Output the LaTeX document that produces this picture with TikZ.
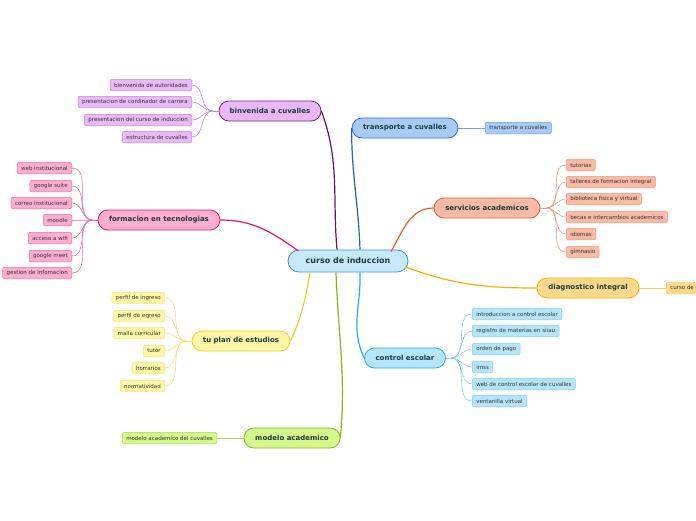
\documentclass[tikz,border=0pt]{standalone}
\usepackage{fontspec}
\setmainfont{DejaVu Sans}
\usetikzlibrary{positioning,calc}

% colores por rama
\definecolor{hubfill}{HTML}{C6E9FB}
\definecolor{hubline}{HTML}{3A97D6}
\definecolor{maintext}{HTML}{1B3B3B}
\definecolor{leaftext}{HTML}{333333}
\definecolor{binfill}{HTML}{E9B9F7}
\definecolor{binline}{HTML}{7A2390}
\definecolor{binleaf}{HTML}{C388DA}
\definecolor{bincon}{HTML}{5B1470}
\definecolor{trafill}{HTML}{A9C9F9}
\definecolor{traline}{HTML}{2A6FD6}
\definecolor{traleaf}{HTML}{6F9FE8}
\definecolor{tracon}{HTML}{1F5FC8}
\definecolor{serfill}{HTML}{F9BBA6}
\definecolor{serline}{HTML}{F05A28}
\definecolor{serleaf}{HTML}{F39A7E}
\definecolor{forfill}{HTML}{FFAED0}
\definecolor{forline}{HTML}{E8116F}
\definecolor{forleaf}{HTML}{F06AA6}
\definecolor{diafill}{HTML}{FFD98A}
\definecolor{dialine}{HTML}{F5B000}
\definecolor{dialeaf}{HTML}{F5C860}
\definecolor{tufill}{HTML}{FFF7A8}
\definecolor{tuline}{HTML}{E9D21C}
\definecolor{tuleaf}{HTML}{F0E37A}
\definecolor{cefill}{HTML}{B5E5FB}
\definecolor{celine}{HTML}{29ABE2}
\definecolor{celeaf}{HTML}{7FCDF0}
\definecolor{modfill}{HTML}{D6F78C}
\definecolor{modline}{HTML}{84B819}
\definecolor{modleaf}{HTML}{A9D84A}

\begin{document}
\begin{tikzpicture}[x=1pt,y=-1pt,
        hub/.style={draw=hubline, fill=hubfill, line width=0.8pt, rounded corners=11pt, minimum width=120pt, minimum height=22pt, inner sep=2pt, font=\fontsize{8}{9}\selectfont\bfseries, text=maintext},
        branch/.style={draw, line width=0.8pt, rounded corners=10pt, minimum height=20pt, inner sep=2pt, font=\fontsize{7}{8}\selectfont\bfseries, text=maintext},
        leaf/.style={draw, line width=0.5pt, rounded corners=2pt, minimum height=11.5pt, inner xsep=4pt, inner ysep=1pt, font=\fontsize{5.5}{6}\selectfont, text=leaftext},
        trunk/.style={line width=1.2pt},
        twig/.style={line width=0.6pt}
    ]
    \useasboundingbox (0,0) rectangle (696,520);
    \clip (0,0) rectangle (696,520);

    \node[hub] (c) at (348,261) {curso de induccion};

    \node[branch, fill=binfill, draw=binline, minimum width=102pt] (bin) at (270,111) {binvenida a cuvalles};
    \node[branch, fill=trafill, draw=traline, minimum width=106pt] (tra) at (405,128) {transporte a cuvalles};
    \node[branch, fill=serfill, draw=serline, minimum width=106pt] (ser) at (487,208) {servicios academicos};
    \node[branch, fill=forfill, draw=forline, minimum width=122pt] (for) at (159,220) {formacion en tecnologias};
    \node[branch, fill=diafill, draw=dialine, minimum width=102pt] (dia) at (588,288) {diagnostico integral};
    \node[branch, fill=tufill, draw=tuline, minimum width=98pt] (tu) at (241,341) {tu plan de estudios};
    \node[branch, fill=cefill, draw=celine, minimum width=81pt] (ce) at (405,358) {control escolar};
    \node[branch, fill=modfill, draw=modline, minimum width=96pt] (mod) at (292,438) {modelo academico};

    % ramas principales
    \draw[trunk, bincon] (bin.east) to[out=-70,in=95] ($(c.north)+(-11,0)$);
    \draw[trunk, tracon] (tra.west) to[out=-90,in=92] ($(c.north)+(12,0)$);
    \draw[trunk, serline] (ser.west) to[out=180,in=60] ($(c.north)+(43,2)$);
    \draw[trunk, forline] (for.east) to[out=0,in=145] ($(c.north)+(-50,1)$);
    \draw[trunk, dialine] ($(c.east)+(-3,6)$) to[out=-20,in=180] (dia.west);
    \draw[trunk, tuline] (tu.east) to[out=65,in=-100] ($(c.south)+(-38,0)$);
    \draw[trunk, celine] ($(c.south)+(12,0)$) to[out=-88,in=115] (ce.west);
    \draw[trunk, modline] ($(c.south)+(-12,0)$) to[out=-88,in=85] (mod.east);

    % binvenida
    \node[leaf, fill=binfill, draw=binleaf, anchor=east] (b1) at (192,85) {bienvenida de autoridades};
    \node[leaf, fill=binfill, draw=binleaf, anchor=east] (b2) at (192,102) {presentacion de cordinador de carrera};
    \node[leaf, fill=binfill, draw=binleaf, anchor=east] (b3) at (192,120) {presentacion del curso de induccion};
    \node[leaf, fill=binfill, draw=binleaf, anchor=east] (b4) at (192,137) {estructura de cuvalles};
    \coordinate (bh) at ($(bin.west)+(-6,0)$);
    \draw[twig, binleaf] (bin.west) -- (bh);
    \foreach \n in {b1,b2,b3,b4} \draw[twig, binleaf] (bh) to[out=180,in=0] (\n.east);

    % formacion
    \node[leaf, fill=forfill, draw=forleaf, anchor=east] (f1) at (72,168) {web institucional};
    \node[leaf, fill=forfill, draw=forleaf, anchor=east] (f2) at (72,186) {google suite};
    \node[leaf, fill=forfill, draw=forleaf, anchor=east] (f3) at (72,203) {correo institucional};
    \node[leaf, fill=forfill, draw=forleaf, anchor=east] (f4) at (72,220) {moodle};
    \node[leaf, fill=forfill, draw=forleaf, anchor=east] (f5) at (72,238) {acceso a wifi};
    \node[leaf, fill=forfill, draw=forleaf, anchor=east] (f6) at (72,256) {google meet};
    \node[leaf, fill=forfill, draw=forleaf, anchor=east] (f7) at (72,273) {gestion de infomacion};
    \coordinate (fh) at ($(for.west)+(-5,0)$);
    \draw[twig, forleaf] (for.west) -- (fh);
    \foreach \n in {f1,f2,f3,f4,f5,f6,f7} \draw[twig, forleaf] (fh) to[out=180,in=0] (\n.east);

    % tu plan
    \node[leaf, fill=tufill, draw=tuleaf, anchor=east] (t1) at (165,298) {perfil de ingreso};
    \node[leaf, fill=tufill, draw=tuleaf, anchor=east] (t2) at (165,316) {perfil de egreso};
    \node[leaf, fill=tufill, draw=tuleaf, anchor=east] (t3) at (165,333) {malla curricular};
    \node[leaf, fill=tufill, draw=tuleaf, anchor=east] (t4) at (165,351) {tutor};
    \node[leaf, fill=tufill, draw=tuleaf, anchor=east] (t5) at (165,368) {horrarios};
    \node[leaf, fill=tufill, draw=tuleaf, anchor=east] (t6) at (165,386) {normatividad};
    \coordinate (th) at ($(tu.west)+(-5,0)$);
    \draw[twig, tuleaf] (tu.west) -- (th);
    \foreach \n in {t1,t2,t3,t4,t5,t6} \draw[twig, tuleaf] (th) to[out=180,in=0] (\n.east);

    % modelo
    \node[leaf, fill=modfill, draw=modleaf, anchor=east] (m1) at (217,438) {modelo academico del cuvalles};
    \draw[twig, modleaf] (mod.west) -- (m1.east);

    % transporte
    \node[leaf, fill=trafill, draw=traleaf, anchor=west] (r1) at (485,128) {transporte a cuvalles};
    \draw[twig, traleaf] (tra.east) -- (r1.west);

    % servicios
    \node[leaf, fill=serfill, draw=serleaf, anchor=west] (s1) at (566,165) {tutorias};
    \node[leaf, fill=serfill, draw=serleaf, anchor=west] (s2) at (566,182) {talleres de formacion integral};
    \node[leaf, fill=serfill, draw=serleaf, anchor=west] (s3) at (566,199) {biblioteca fisica y virtual};
    \node[leaf, fill=serfill, draw=serleaf, anchor=west] (s4) at (566,217) {becas e intercambios academicos};
    \node[leaf, fill=serfill, draw=serleaf, anchor=west] (s5) at (566,234) {idiomas};
    \node[leaf, fill=serfill, draw=serleaf, anchor=west] (s6) at (566,252) {gimnasio};
    \coordinate (sh) at ($(ser.east)+(6,0)$);
    \draw[twig, serleaf] (ser.east) -- (sh);
    \foreach \n in {s1,s2,s3,s4,s5,s6} \draw[twig, serleaf] (sh) to[out=0,in=180] (\n.west);

    % diagnostico
    \node[leaf, fill=diafill, draw=dialeaf, anchor=west] (d1) at (666,288) {curso de diagnostico};
    \draw[twig, dialeaf] (dia.east) -- (d1.west);

    % control escolar
    \node[leaf, fill=cefill, draw=celeaf, anchor=west] (e1) at (472,314) {introduccion a control escolar};
    \node[leaf, fill=cefill, draw=celeaf, anchor=west] (e2) at (472,331) {registro de materias en siiau};
    \node[leaf, fill=cefill, draw=celeaf, anchor=west] (e3) at (472,349) {orden de pago};
    \node[leaf, fill=cefill, draw=celeaf, anchor=west] (e4) at (472,367) {imss};
    \node[leaf, fill=cefill, draw=celeaf, anchor=west] (e5) at (472,384) {web de control escolar de cuvalles};
    \node[leaf, fill=cefill, draw=celeaf, anchor=west] (e6) at (472,401) {ventanilla virtual};
    \coordinate (eh) at ($(ce.east)+(5,0)$);
    \draw[twig, celeaf] (ce.east) -- (eh);
    \foreach \n in {e1,e2,e3,e4,e5,e6} \draw[twig, celeaf] (eh) to[out=0,in=180] (\n.west);
    \end{tikzpicture}
\end{document}
